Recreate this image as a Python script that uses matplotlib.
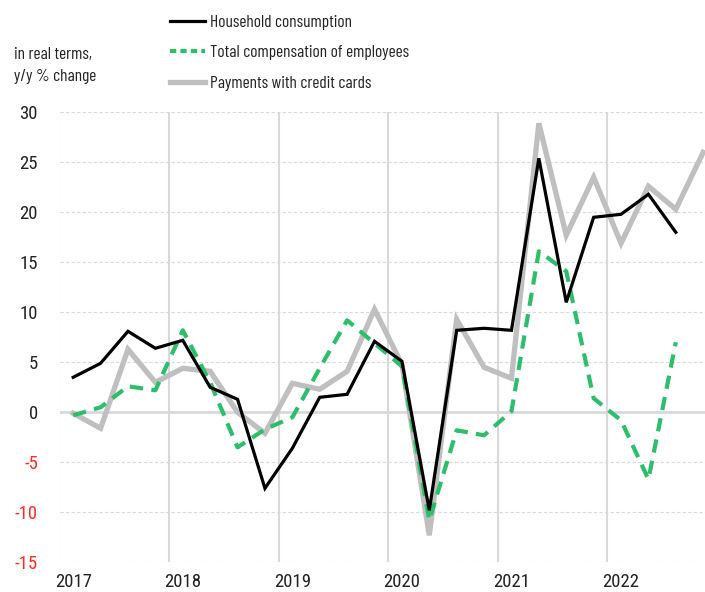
import matplotlib
matplotlib.use("Agg")
import matplotlib.pyplot as plt
from matplotlib.lines import Line2D

TEXT_FONT = ['Barlow Condensed', 'DejaVu Sans']
NUM_FONT = ['Roboto Condensed', 'DejaVu Sans']
plt.rcParams['font.family'] = TEXT_FONT

years = ["2017", "2018", "2019", "2020", "2021", "2022"]

household = [3.5, 4.9, 8.1, 6.4, 7.2, 2.5, 1.3, -7.6, -3.6, 1.5, 1.8, 7.1,
             5.1, -9.8, 8.2, 8.4, 8.2, 25.4, 11.0, 19.5, 19.8, 21.8, 18.0]
compensation = [-0.3, 0.5, 2.6, 2.2, 8.2, 3.0, -3.5, -1.7, -0.5, 4.4, 9.2, 6.9,
                 4.6, -10.8, -1.8, -2.3, 0.1, 16.1, 14.1, 1.4, -0.8, -6.7, 7.0]
credit = [-0.1, -1.6, 6.3, 3.0, 4.4, 4.1, 0.0, -2.1, 2.9, 2.3, 4.1, 10.3,
          4.8, -12.3, 9.3, 4.5, 3.4, 28.9, 17.7, 23.5, 16.9, 22.6, 20.3, 26.0]

FS_TXT = 12.5
FS_NUM = 13.5
TXT = "#222222"
W, H = 705, 592
fig = plt.figure(figsize=(W / 100, H / 100), dpi=100)
left, right, top, bottom = 59.5, 716.9, 112.3, 562.3
ax = fig.add_axes([left / W, 1 - bottom / H, (right - left) / W, (bottom - top) / H])

grid_c = "#d9d9d9"
for v in range(-15, 31, 5):
    if v == 0:
        ax.axhline(0, color=grid_c, lw=2, zorder=1)
    else:
        ax.axhline(v, color=grid_c, lw=0.8, ls=(0, (3, 2)), zorder=1)
for k in range(len(years)):
    ax.axvline(4 * k - 0.5, color=grid_c, lw=1.5, zorder=1)

green = "#2dbe6c"
ax.plot(range(len(credit)), credit, color="#bfbfbf", lw=3.8, solid_joinstyle="miter", zorder=2)
ax.plot(range(len(compensation)), compensation, color=green, lw=3.0, ls=(0, (3.2, 2.0)), zorder=3)
ax.plot(range(len(household)), household, color="black", lw=2.3, solid_joinstyle="miter", zorder=4)

ax.set_xlim(-0.5, 23.5)
ax.set_ylim(-15, 30)
for s in ax.spines.values():
    s.set_visible(False)
yt = list(range(-15, 31, 5))
ax.set_yticks(yt)
ax.set_yticklabels([str(v) for v in yt], fontsize=FS_NUM, color=TXT, family=NUM_FONT)
for lab, v in zip(ax.get_yticklabels(), yt):
    if v < 0:
        lab.set_color("#ff2a2a")
ax.set_xticks([4 * k for k in range(len(years))])
ax.set_xticklabels(years, fontsize=FS_NUM, color=TXT, family=NUM_FONT)
ax.tick_params(length=0, axis="y", pad=15.5)
ax.tick_params(length=0, axis="x", pad=8)

fig.text(14 / W, 1 - 55 / H, "in real terms,", fontsize=FS_TXT, color=TXT, va="center", ha="left")
fig.text(14 / W, 1 - 77 / H, "y/y % change", fontsize=FS_TXT, color=TXT, va="center", ha="left")

handles = [Line2D([], [], color="black", lw=2.3),
           Line2D([], [], color=green, lw=3.0, ls=(0, (1.5, 1.0))),
           Line2D([], [], color="#bfbfbf", lw=3.8)]
labels = ["Household consumption", "Total compensation of employees", "Payments with credit cards"]
fig.legend(handles, labels, loc="upper left", bbox_to_anchor=(166.5 / W, 1 - 11.3 / H),
           frameon=False, fontsize=FS_TXT, handlelength=2.0, handletextpad=0.29,
           labelspacing=0.88, labelcolor=TXT, borderaxespad=0, borderpad=0.2)

fig.savefig("out.png", dpi=100)
